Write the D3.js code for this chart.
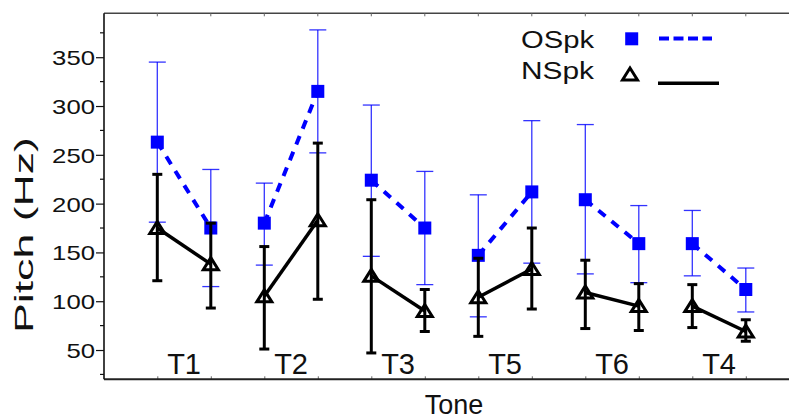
<!DOCTYPE html>
<html>
<head>
<meta charset="utf-8">
<script src="https://cdn.jsdelivr.net/npm/d3@7/dist/d3.min.js"></script>
<style>
  html, body { margin: 0; padding: 0; background: #fff; }
  svg { display: block; font-family: "Liberation Sans", Arial, Helvetica, sans-serif; }
</style>
</head>
<body>
<svg id="chart" width="789" height="419"></svg>
<script>
// ---------------- data ----------------
const tones = ["T1", "T2", "T3", "T5", "T6", "T4"];
const syllables = ["a", "b"];
const seriesNames = ["OSpk", "NSpk"];

const ospkMean  = [263, 175, 180, 315, 224, 175, 147, 212, 204, 159, 159, 112];
const ospkUpper = [345, 235, 221, 378, 301, 233, 209, 285, 281, 198, 193, 134];
const ospkLower = [181, 115, 137, 252, 146, 117,  84, 139, 128, 119, 126,  89];

const nspkMean  = [175, 138, 105, 183, 126,  90, 104, 133, 109,  95,  95,  69];
const nspkUpper = [230, 180, 156, 262, 204, 112, 144, 175, 142, 118, 117,  81];
const nspkLower = [121,  93,  51, 102,  47,  69,  64,  92,  72,  70,  73,  59];

const yTickValues = [50, 100, 150, 200, 250, 300, 350];
const yMinorValues = d3.range(25, 400, 25);

const yTitle = "Pitch (Hz)";
const xTitle = "Tone";

// ---------------- layout ----------------
const svg = d3.select("#chart");
const pL = 104, pT = 13.3, pB = 379.3, pR = 800;
const blue = "#0000ff";

const keys = tones.flatMap(t => syllables.map(s => t + s));
const x = d3.scalePoint().domain(keys).range([157.3, 745.8]);
const y = d3.scaleLinear().domain([20, 395]).range([pB, pT]);

function build(mean, upper, lower) {
  return keys.map((k, i) => ({ key: k, tone: tones[Math.floor(i / 2)], m: mean[i], hi: upper[i], lo: lower[i] }));
}
const ospk = build(ospkMean, ospkUpper, ospkLower);
const nspk = build(nspkMean, nspkUpper, nspkLower);

// ---------------- frame ----------------
svg.append("line").attr("x1", pL).attr("x2", pR).attr("y1", pT).attr("y2", pT)
  .attr("stroke", "#444").attr("stroke-width", 1.6);

// top ticks (inward)
svg.append("g").selectAll("line").data(keys).join("line")
  .attr("x1", d => x(d)).attr("x2", d => x(d)).attr("y1", pT).attr("y2", pT + 3)
  .attr("stroke", "#666").attr("stroke-width", 1);

// bottom axis
const xAxis = d3.axisBottom(x).tickSize(-3).tickFormat("");
const gx = svg.append("g").attr("transform", `translate(0,${pB})`).call(xAxis);
gx.select(".domain").remove();
gx.selectAll(".tick line").attr("stroke", "#666").attr("stroke-width", 1);
svg.append("line").attr("x1", pL).attr("x2", pR).attr("y1", pB).attr("y2", pB)
  .attr("stroke", "#222").attr("stroke-width", 2);

// left axis
const yAxis = d3.axisLeft(y).tickValues(yTickValues).tickSize(8).tickPadding(3).tickFormat(d3.format("d"));
const gy = svg.append("g").attr("transform", `translate(${pL},0)`).call(yAxis);
gy.select(".domain").remove();
gy.selectAll(".tick line").attr("stroke", "#111").attr("stroke-width", 1.2);
gy.selectAll(".tick text")
  .attr("font-size", 21).attr("fill", "#111")
  .attr("font-family", "'Liberation Sans', Arial, sans-serif")
  .attr("x", -9).attr("dy", "0.36em")
  .attr("textLength", d => String(d).length * 14.3)
  .attr("lengthAdjust", "spacingAndGlyphs");
svg.append("g").selectAll("line").data(yMinorValues.filter(v => !yTickValues.includes(v))).join("line")
  .attr("x1", pL - 4).attr("x2", pL).attr("y1", d => y(d)).attr("y2", d => y(d))
  .attr("stroke", "#111").attr("stroke-width", 1.2);
svg.append("line").attr("x1", pL).attr("x2", pL).attr("y1", pT).attr("y2", pB)
  .attr("stroke", "#111").attr("stroke-width", 1.6);

// axis titles
svg.append("text").attr("transform", `translate(33,235) rotate(-90)`)
  .attr("text-anchor", "middle").attr("font-size", 26).attr("fill", "#111")
  .attr("textLength", 196).attr("lengthAdjust", "spacingAndGlyphs")
  .text(yTitle);
svg.append("text").attr("x", 454).attr("y", 414).attr("text-anchor", "middle")
  .attr("font-size", 27).attr("fill", "#111").text(xTitle);

// tone labels
svg.append("g").selectAll("text").data(tones).join("text")
  .attr("x", t => (x(t + syllables[0]) + x(t + syllables[1])) / 2)
  .attr("y", 374).attr("text-anchor", "middle").attr("font-size", 29).attr("fill", "#111")
  .text(t => t);

// ---------------- OSpk ----------------
const gO = svg.append("g");
gO.selectAll("g.eb").data(ospk).join("g").attr("class", "eb").each(function(d) {
  const g = d3.select(this);
  const cx = x(d.key), w = 8.5;
  g.append("line").attr("x1", cx).attr("x2", cx).attr("y1", y(d.hi)).attr("y2", y(d.lo));
  g.append("line").attr("x1", cx - w).attr("x2", cx + w).attr("y1", y(d.hi)).attr("y2", y(d.hi));
  g.append("line").attr("x1", cx - w).attr("x2", cx + w).attr("y1", y(d.lo)).attr("y2", y(d.lo));
}).attr("stroke", blue).attr("stroke-width", 1.3).attr("stroke-opacity", 0.8);

const line = d3.line().x(d => x(d.key)).y(d => y(d.m));
gO.selectAll("path.ln").data(d3.groups(ospk, d => d.tone)).join("path").attr("class", "ln")
  .attr("d", d => line(d[1])).attr("fill", "none").attr("stroke", blue)
  .attr("stroke-width", 4).attr("stroke-dasharray", "9,8");

gO.selectAll("rect").data(ospk).join("rect")
  .attr("x", d => x(d.key) - 6.5).attr("y", d => y(d.m) - 6.5)
  .attr("width", 13).attr("height", 13).attr("fill", blue);

// ---------------- NSpk ----------------
const gN = svg.append("g");
gN.selectAll("g.eb").data(nspk).join("g").attr("class", "eb").each(function(d) {
  const g = d3.select(this);
  const cx = x(d.key), w = 5;
  g.append("line").attr("x1", cx).attr("x2", cx).attr("y1", y(d.hi)).attr("y2", y(d.lo));
  g.append("line").attr("x1", cx - w).attr("x2", cx + w).attr("y1", y(d.hi)).attr("y2", y(d.hi));
  g.append("line").attr("x1", cx - w).attr("x2", cx + w).attr("y1", y(d.lo)).attr("y2", y(d.lo));
}).attr("stroke", "#000").attr("stroke-width", 3);

gN.selectAll("path.ln").data(d3.groups(nspk, d => d.tone)).join("path").attr("class", "ln")
  .attr("d", d => line(d[1])).attr("fill", "none").attr("stroke", "#000")
  .attr("stroke-width", 3.5);

const tri = (cx, cy) => `M${cx - 7.5},${cy + 5.5}L${cx + 7.5},${cy + 5.5}L${cx},${cy - 6.5}Z`;
gN.selectAll("path.tri").data(nspk).join("path").attr("class", "tri")
  .attr("d", d => tri(x(d.key), y(d.m)))
  .attr("fill", "none").attr("stroke", "#000").attr("stroke-width", 3).attr("stroke-linejoin", "miter");

// ---------------- legend ----------------
const lg = svg.append("g");
lg.append("text").attr("x", 521).attr("y", 47.5).attr("font-size", 23).attr("fill", "#111")
  .attr("textLength", 73).attr("lengthAdjust", "spacingAndGlyphs").text(seriesNames[0]);
lg.append("text").attr("x", 521).attr("y", 79).attr("font-size", 23).attr("fill", "#111")
  .attr("textLength", 73).attr("lengthAdjust", "spacingAndGlyphs").text(seriesNames[1]);
lg.append("rect").attr("x", 625.2).attr("y", 32.3).attr("width", 13).attr("height", 13).attr("fill", blue);
lg.append("line").attr("x1", 659).attr("x2", 712).attr("y1", 38.5).attr("y2", 38.5)
  .attr("stroke", blue).attr("stroke-width", 4).attr("stroke-dasharray", "10,4.5");
lg.append("path").attr("d", tri(630, 74.5)).attr("fill", "none").attr("stroke", "#000").attr("stroke-width", 3);
lg.append("line").attr("x1", 658).attr("x2", 719).attr("y1", 83.3).attr("y2", 83.3)
  .attr("stroke", "#000").attr("stroke-width", 3.5);
</script>
</body>
</html>
